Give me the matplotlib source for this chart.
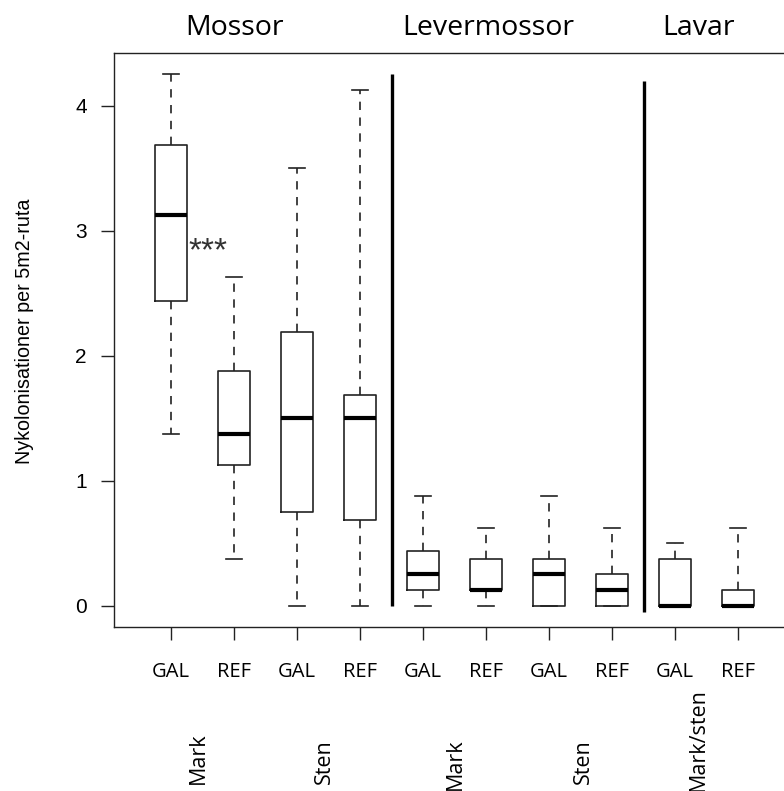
import matplotlib.pyplot as plt

# kvartiler per behandling: GAL/REF för mossor, levermossor och lavar
treatments = ['GAL', 'REF'] * 5
whisker_low = [1.375, 0.375, 0, 0, 0, 0, 0, 0, 0, 0]
q1 = [2.4375, 1.125, 0.75, 0.6875, 0.125, 0.125, 0, 0, 0, 0]
medians = [3.125, 1.375, 1.5, 1.5, 0.25, 0.125, 0.25, 0.125, 0, 0]
q3 = [3.6875, 1.875, 2.1875, 1.6875, 0.4375, 0.375, 0.375, 0.25, 0.375, 0.125]
whisker_high = [4.25, 2.625, 3.5, 4.125, 0.875, 0.625, 0.875, 0.625, 0.5, 0.625]

taxa = ['Mossor', 'Levermossor', 'Lavar']
taxa_x = [2.0, 6.03, 9.37]
substrates = ['Mark', 'Sten', 'Mark', 'Sten', 'Mark/sten']
substrate_x = [1.43, 3.43, 5.52, 7.54, 9.37]
substrate_y = [-0.2735, -0.2735, -0.284, -0.2735, -0.286]

# skiljelinjer mellan grupperna
divider_x = [4.5, 8.5]
divider_lo = [0, -0.05]
divider_hi = [4.25, 4.2]

ink = '#222222'
W, H = 784, 791

fig = plt.figure(figsize=(W / 100, H / 100), dpi=100)
ax = fig.add_axes([114.3 / W, 1 - 627 / H, 680.4 / W, 574 / H])

stats = []
for lo, a, m, b, hi in zip(whisker_low, q1, medians, q3, whisker_high):
    stats.append(dict(whislo=lo, q1=a, med=m, q3=b, whishi=hi, fliers=[]))

ax.bxp(stats, positions=range(1, 11), widths=0.5, showfliers=False,
       boxprops=dict(color=ink, linewidth=1.2),
       medianprops=dict(color='black', linewidth=3, solid_capstyle='butt'),
       whiskerprops=dict(color=ink, linewidth=1.2, linestyle=(0, (5, 4.5))),
       capprops=dict(color=ink, linewidth=1.2))

for x, lo, hi in zip(divider_x, divider_lo, divider_hi):
    ax.plot([x, x], [lo, hi], color='black', linewidth=2.4, solid_capstyle='butt')

ax.text(1.27, 2.76, '***', fontsize=24, family='Liberation Sans', color='#333333',
        ha='left', va='baseline')

ax.set_xlim(0.1, 10.9)
ax.set_ylim(-0.17, 4.42)

ax.set_xticks(range(1, 11))
ax.set_xticklabels(treatments, family='Open Sans', fontsize=14.5)
ax.set_yticks([0, 1, 2, 3, 4])
ax.set_yticklabels(['0', '1', '2', '3', '4'], family='Liberation Sans', fontsize=15)
ax.tick_params(axis='x', length=9.4, width=1, color=ink, pad=15.5)
ax.tick_params(axis='y', length=9.4, width=1, color=ink, pad=10.5)

for side in ['left', 'top', 'bottom', 'right']:
    ax.spines[side].set_color(ink)
    ax.spines[side].set_linewidth(1)

ax.set_ylabel('Nykolonisationer per 5m2-ruta', family='Liberation Sans', fontsize=14.2)
ax.yaxis.set_label_coords(-0.118, 0.516)

trans = ax.get_xaxis_transform()
for name, x in zip(taxa, taxa_x):
    ax.text(x, 1.0314, name, transform=trans, family='Open Sans', fontsize=20.5,
            ha='center', va='baseline', clip_on=False)

for name, x, y in zip(substrates, substrate_x, substrate_y):
    ax.text(x, y, name, transform=trans, family='Open Sans', fontsize=15.5,
            rotation=90, ha='center', va='bottom', clip_on=False)

fig.savefig('out.png', dpi=100)
